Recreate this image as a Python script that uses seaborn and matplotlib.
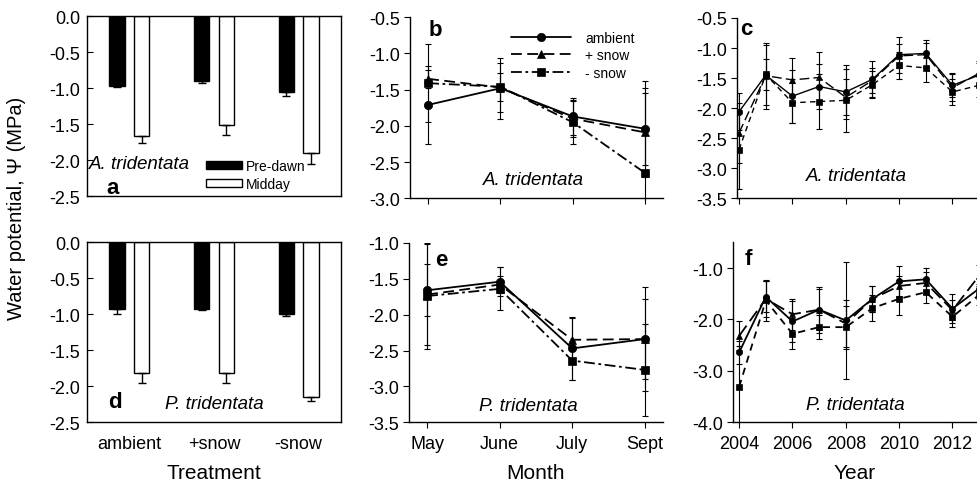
import numpy as np
import pandas as pd
import seaborn as sns
import matplotlib.pyplot as plt
from matplotlib.patches import Patch

# --- data ---
treatments = ["ambient", "+snow", "-snow"]
periods = ["Pre-dawn", "Midday"]

a_predawn = [-0.97, -0.90, -1.05]
a_predawn_se = [0.02, 0.03, 0.06]
a_midday = [-1.66, -1.51, -1.90]
a_midday_se = [0.11, 0.14, 0.16]

d_predawn = [-0.92, -0.92, -1.00]
d_predawn_se = [0.08, 0.02, 0.03]
d_midday = [-1.82, -1.81, -2.15]
d_midday_se = [0.14, 0.14, 0.06]

months = ["May", "June", "July", "Sept"]
series = ["ambient", "+ snow", "- snow"]

b_ambient = [-1.71, -1.48, -1.87, -2.04]
b_ambient_err = [0.54, 0.42, 0.25, 0.50]
b_plus = [-1.35, -1.47, -1.90, -2.09]
b_plus_err = [0.12, 0.34, 0.26, 0.62]
b_minus = [-1.41, -1.46, -1.95, -2.65]
b_minus_err = [0.54, 0.19, 0.30, 1.27]

e_ambient = [-1.66, -1.54, -2.47, -2.34]
e_ambient_err = [0.36, 0.20, 0.44, 0.72]
e_plus = [-1.72, -1.58, -2.35, -2.34]
e_plus_err = [0.70, 0.12, 0.30, 0.56]
e_minus = [-1.74, -1.64, -2.64, -2.77]
e_minus_err = [0.74, 0.30, 0.27, 0.64]

years = [2004, 2005, 2006, 2007, 2008, 2009, 2010, 2011, 2012, 2013]

c_ambient = [-2.06, -1.45, -1.80, -1.64, -1.73, -1.52, -1.11, -1.09, -1.62, -1.45]
c_ambient_err = [0.31, 0.50, 0.44, 0.37, 0.45, 0.30, 0.30, 0.22, 0.20, 0.20]
c_plus = [-2.41, -1.46, -1.53, -1.49, -1.82, -1.54, -1.13, -1.11, -1.66, -1.42]
c_plus_err = [0.50, 0.55, 0.37, 0.43, 0.30, 0.20, 0.20, 0.20, 0.22, 0.20]
c_minus = [-2.69, -1.44, -1.91, -1.89, -1.87, -1.61, -1.29, -1.33, -1.73, -1.62]
c_minus_err = [0.66, 0.25, 0.33, 0.46, 0.52, 0.22, 0.23, 0.24, 0.22, 0.20]

f_ambient = [-2.64, -1.56, -2.04, -1.81, -2.02, -1.60, -1.26, -1.22, -1.79, -1.40]
f_ambient_err = [0.22, 0.30, 0.40, 0.45, 1.14, 0.25, 0.30, 0.22, 0.28, 0.20]
f_plus = [-2.32, -1.60, -1.90, -1.81, -2.08, -1.60, -1.35, -1.29, -1.82, -1.15]
f_plus_err = [0.28, 0.35, 0.30, 0.40, 0.45, 0.25, 0.20, 0.22, 0.20, 0.20]
f_minus = [-3.31, -1.63, -2.28, -2.15, -2.15, -1.78, -1.60, -1.47, -1.95, -1.52]
f_minus_err = [0.80, 0.40, 0.30, 0.24, 0.42, 0.26, 0.32, 0.22, 0.20, 0.20]

sns.set_style("ticks", {"axes.edgecolor": "black", "text.color": "black",
                        "axes.labelcolor": "black", "xtick.color": "black",
                        "ytick.color": "black"})
plt.rcParams["font.family"] = ["Liberation Sans", "DejaVu Sans"]
plt.rcParams["axes.unicode_minus"] = False
plt.rcParams["axes.linewidth"] = 1.0

TICK = 13
LABEL = 15
SPEC = 13.5
fig = plt.figure(figsize=(9.77, 4.81), dpi=100)

ax_a = fig.add_axes([0.089, 0.5904, 0.260, 0.3742])
ax_d = fig.add_axes([0.089, 0.1200, 0.260, 0.3742])
ax_b = fig.add_axes([0.4197, 0.5857, 0.259, 0.3763])
ax_e = fig.add_axes([0.4186, 0.1200, 0.260, 0.3728])
ax_c = fig.add_axes([0.754, 0.5857, 0.246, 0.3748])
ax_f = fig.add_axes([0.750, 0.1200, 0.250, 0.3742])


def bar_panel(ax, pre, pre_se, mid, mid_se):
    df = pd.DataFrame({
        "treatment": treatments * 2,
        "period": [periods[0]] * 3 + [periods[1]] * 3,
        "value": pre + mid,
    })
    sns.barplot(data=df, x="treatment", y="value", hue="period", order=treatments,
                hue_order=periods, palette={"Pre-dawn": "black", "Midday": "white"},
                edgecolor="black", linewidth=1, width=0.58, gap=0.38, saturation=1,
                errorbar=None, legend=False, ax=ax)
    errs = {0: pre_se, 1: mid_se}
    for p in ax.patches:
        xc = p.get_x() + p.get_width() / 2
        cat = int(round(xc))
        hue = 0 if xc < cat else 1
        y = p.get_y() + p.get_height()
        ax.errorbar(xc, y, yerr=[[errs[hue][cat]], [0]], fmt="none", ecolor="black",
                    elinewidth=1, capsize=3, capthick=1)
    ax.set_xlim(-0.5, 2.5)
    ax.set_ylim(-2.5, 0)
    ax.set_yticks(np.arange(-2.5, 0.01, 0.5))
    ax.set_yticklabels([f"{v:.1f}" for v in np.arange(-2.5, 0.01, 0.5)])
    ax.tick_params(axis="y", direction="in", length=4, pad=5, labelsize=TICK)
    ax.tick_params(axis="x", length=0, pad=9, labelsize=TICK)
    for s in ax.spines.values():
        s.set_visible(True)
        s.set_linewidth(1)
    ax.set_ylabel("")


bar_panel(ax_a, a_predawn, a_predawn_se, a_midday, a_midday_se)
ax_a.set_xticklabels([])
ax_a.set_xlabel("")
bar_panel(ax_d, d_predawn, d_predawn_se, d_midday, d_midday_se)
ax_d.set_xlabel("Treatment", fontsize=LABEL, labelpad=8)

leg_handles = [Patch(facecolor="black", edgecolor="black"),
               Patch(facecolor="white", edgecolor="black")]
ax_a.legend(leg_handles, periods, loc="upper left", bbox_to_anchor=(0.47, 0.205),
            frameon=False, fontsize=10, handlelength=2.6, handleheight=0.5,
            handletextpad=0.25, labelspacing=0.3, borderpad=0, borderaxespad=0)

ax_a.text(0.006, 0.18, "A. tridentata", transform=ax_a.transAxes, fontsize=SPEC,
          style="italic", va="center", ha="left")
ax_a.text(0.10, 0.05, "a", transform=ax_a.transAxes, fontsize=16,
          fontweight="bold", va="center", ha="center")
ax_d.text(0.11, 0.115, "d", transform=ax_d.transAxes, fontsize=16,
          fontweight="bold", va="center", ha="center")
ax_d.text(0.5, 0.105, "P. tridentata", transform=ax_d.transAxes, fontsize=SPEC,
          style="italic", va="center", ha="center")


def line_panel(ax, x, vals, errs, dashes, msize, lw, show_legend=False):
    df = pd.DataFrame({
        "x": list(x) * 3,
        "value": vals[0] + vals[1] + vals[2],
        "treat": [series[0]] * len(x) + [series[1]] * len(x) + [series[2]] * len(x),
    })
    for v, e in zip(vals, errs):
        ax.errorbar(x, v, yerr=e, fmt="none", ecolor="black", elinewidth=0.8,
                    capsize=2.5, capthick=0.8, zorder=1)
    sns.lineplot(data=df, x="x", y="value", style="treat", style_order=series,
                 markers={"ambient": "o", "+ snow": "^", "- snow": "s"},
                 dashes=dict(zip(series, dashes)), color="black", linewidth=lw,
                 markersize=msize, markeredgecolor="black", markeredgewidth=0.5,
                 legend=show_legend, ax=ax, zorder=3)
    sns.despine(ax=ax)
    ax.set_xlabel("")
    ax.set_ylabel("")
    ax.tick_params(direction="out", length=4, pad=3, labelsize=TICK)
    ax.tick_params(axis="x", pad=5)


month_pos = list(range(len(months)))
line_panel(ax_b, month_pos, [b_ambient, b_plus, b_minus],
           [b_ambient_err, b_plus_err, b_minus_err],
           ["", (6, 3), (6, 2, 1.5, 2)], 6, 1.3, show_legend=True)
h, l = ax_b.get_legend_handles_labels()
ax_b.legend(h, l, loc="upper left", bbox_to_anchor=(0.40, 0.925), frameon=False,
            fontsize=10, handlelength=4.3, handletextpad=1.0, labelspacing=0.25,
            borderpad=0, borderaxespad=0)
ax_b.set_xlim(-0.25, 3.25)
ax_b.set_ylim(-3.0, -0.5)
yt = np.arange(-3.0, -0.49, 0.5)
ax_b.set_yticks(yt)
ax_b.set_yticklabels([f"{v:.1f}" for v in yt])
ax_b.set_xticks(month_pos)
ax_b.set_xticklabels([])
ax_b.text(0.10, 0.93, "b", transform=ax_b.transAxes, fontsize=16,
          fontweight="bold", va="center", ha="center")
ax_b.text(0.486, 0.105, "A. tridentata", transform=ax_b.transAxes, fontsize=SPEC,
          style="italic", va="center", ha="center")

line_panel(ax_e, month_pos, [e_ambient, e_plus, e_minus],
           [e_ambient_err, e_plus_err, e_minus_err],
           ["", (6, 3), (6, 2, 1.5, 2)], 6, 1.3)
ax_e.set_xlim(-0.25, 3.25)
ax_e.set_ylim(-3.5, -1.0)
yt = np.arange(-3.5, -0.99, 0.5)
ax_e.set_yticks(yt)
ax_e.set_yticklabels([f"{v:.1f}" for v in yt])
ax_e.set_xticks(month_pos)
ax_e.set_xticklabels(months)
ax_e.set_xlabel("Month", fontsize=LABEL, labelpad=8)
ax_e.text(0.126, 0.91, "e", transform=ax_e.transAxes, fontsize=16,
          fontweight="bold", va="center", ha="center")
ax_e.text(0.47, 0.095, "P. tridentata", transform=ax_e.transAxes, fontsize=SPEC,
          style="italic", va="center", ha="center")

line_panel(ax_c, years, [c_ambient, c_plus, c_minus],
           [c_ambient_err, c_plus_err, c_minus_err],
           ["", (7, 3), (4, 3)], 4.5, 1.0)
ax_c.set_xlim(2003.91, 2012.92)
ax_c.set_ylim(-3.5, -0.5)
yt = np.arange(-3.5, -0.49, 0.5)
ax_c.set_yticks(yt)
ax_c.set_yticklabels([f"{v:.1f}" for v in yt])
ax_c.set_xticks(years[::2])
ax_c.set_xticklabels([])
ax_c.text(0.04, 0.94, "c", transform=ax_c.transAxes, fontsize=16,
          fontweight="bold", va="center", ha="center")
ax_c.text(0.5, 0.125, "A. tridentata", transform=ax_c.transAxes, fontsize=SPEC,
          style="italic", va="center", ha="center")

line_panel(ax_f, years, [f_ambient, f_plus, f_minus],
           [f_ambient_err, f_plus_err, f_minus_err],
           ["", (7, 3), (4, 3)], 4.5, 1.3)
ax_f.set_xlim(2003.76, 2012.92)
ax_f.set_ylim(-4.0, -0.5)
yt = np.arange(-4.0, -0.99, 1.0)
ax_f.set_yticks(yt)
ax_f.set_yticklabels([f"{v:.1f}" for v in yt])
ax_f.set_xticks(years[::2])
ax_f.set_xticklabels([str(y) for y in years[::2]])
ax_f.set_xlabel("Year", fontsize=LABEL, labelpad=8)
ax_f.text(0.066, 0.91, "f", transform=ax_f.transAxes, fontsize=16,
          fontweight="bold", va="center", ha="center")
ax_f.text(0.5, 0.10, "P. tridentata", transform=ax_f.transAxes, fontsize=SPEC,
          style="italic", va="center", ha="center")

fig.text(0.017, 0.567, "Water potential, \u03a8 (MPa)", rotation=90, fontsize=14.5,
         va="center", ha="center")

fig.savefig("out.png", dpi=100)
